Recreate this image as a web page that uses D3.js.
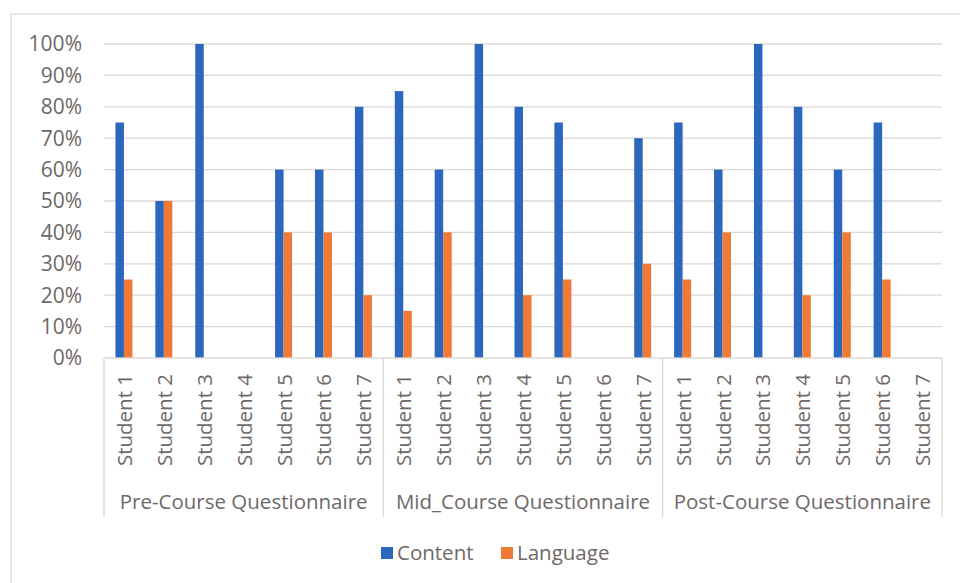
<!DOCTYPE html>
<html>
<head>
<meta charset="utf-8">
<script src="https://cdn.jsdelivr.net/npm/d3@7/dist/d3.min.js"></script>
<style>
  html, body { margin: 0; padding: 0; background: #fff; }
  svg { display: block; font-family: "Open Sans", sans-serif; }
</style>
</head>
<body>
<svg id="chart" width="960" height="583"></svg>
<script>
const groups = ["Pre-Course Questionnaire", "Mid_Course Questionnaire", "Post-Course Questionnaire"];
const students = ["Student 1", "Student 2", "Student 3", "Student 4", "Student 5", "Student 6", "Student 7"];
const seriesNames = ["Content", "Language"];
const contentValues = [
  [75, 50, 100, 0, 60, 60, 80],
  [85, 60, 100, 80, 75, 0, 70],
  [75, 60, 100, 80, 60, 75, 0]
];
const languageValues = [
  [25, 50, 0, 0, 40, 40, 20],
  [15, 40, 0, 20, 25, 0, 30],
  [25, 40, 0, 20, 40, 25, 0]
];
const yTicks = [0, 10, 20, 30, 40, 50, 60, 70, 80, 90, 100];
const colors = ["#2a67bd", "#ef7a36"];

(function () {
const svg = d3.select("#chart");
const textColor = "#6e6868";
const gridColor = "#dcd8d6";

// frame
svg.append("rect").attr("x", 11).attr("y", 14).attr("width", 980).attr("height", 600)
  .attr("fill", "none").attr("stroke", "#e2dedc").attr("stroke-width", 1.5);

const pL = 104, pR = 942, pT = 44, pB = 358;

const cats = [];
groups.forEach((g, gi) => students.forEach((s, si) => cats.push({ key: gi + "|" + si, g: gi, s: si })));

const x = d3.scaleBand().domain(cats.map(c => c.key)).range([pL, pR]).paddingInner(0).paddingOuter(0);
const y = d3.scaleLinear().domain([0, 100]).range([pB, pT]);

// gridlines
svg.append("g").selectAll("line").data(yTicks.filter(t => t > 0)).join("line")
  .attr("x1", pL).attr("x2", pR)
  .attr("y1", d => y(d)).attr("y2", d => y(d))
  .attr("stroke", gridColor).attr("stroke-width", 1.3);

// y labels
svg.append("g").selectAll("text").data(yTicks).join("text")
  .attr("x", 82).attr("y", d => y(d)).attr("dy", "0.35em")
  .attr("text-anchor", "end").attr("fill", textColor).attr("font-size", 21)
  .text(d => d + "%");

// bars
const barW = 8.5;
const series = [contentValues, languageValues];
series.forEach((vals, k) => {
  svg.append("g").selectAll("rect").data(cats).join("rect")
    .attr("x", d => x(d.key) + x.bandwidth() / 2 - barW + k * barW)
    .attr("width", barW)
    .attr("y", d => y(vals[d.g][d.s]))
    .attr("height", d => pB - y(vals[d.g][d.s]))
    .attr("fill", colors[k]);
});

// axis line
svg.append("line").attr("x1", pL).attr("x2", pR).attr("y1", pB).attr("y2", pB)
  .attr("stroke", gridColor).attr("stroke-width", 1.3);

// group separators
const sepX = [0, 7, 14, 21].map(i => i < 21 ? x(cats[i].key) : pR);
svg.append("g").selectAll("line").data(sepX).join("line")
  .attr("x1", d => d).attr("x2", d => d).attr("y1", pB).attr("y2", 517)
  .attr("stroke", gridColor).attr("stroke-width", 1.3);

// category labels
svg.append("g").selectAll("text").data(cats).join("text")
  .attr("transform", d => `translate(${x(d.key) + x.bandwidth() / 2 + 8},374) rotate(-90)`)
  .attr("text-anchor", "end").attr("fill", textColor).attr("font-size", 20.5)
  .text(d => students[d.s]);

// group labels
svg.append("g").selectAll("text").data(groups).join("text")
  .attr("x", (d, i) => (sepX[i] + sepX[i + 1]) / 2).attr("y", 509)
  .attr("text-anchor", "middle").attr("fill", textColor).attr("font-size", 20.5)
  .text(d => d);

// legend
const legendItems = [{ name: seriesNames[0], x: 381 }, { name: seriesNames[1], x: 501 }];
const lg = svg.append("g").selectAll("g").data(legendItems).join("g")
  .attr("transform", d => `translate(${d.x},547)`);
lg.append("rect").attr("width", 12).attr("height", 12).attr("fill", (d, i) => colors[i]);
lg.append("text").attr("x", 16).attr("y", 6).attr("dy", "0.35em")
  .attr("fill", textColor).attr("font-size", 20.5).text(d => d.name);
})();
</script>
</body>
</html>
